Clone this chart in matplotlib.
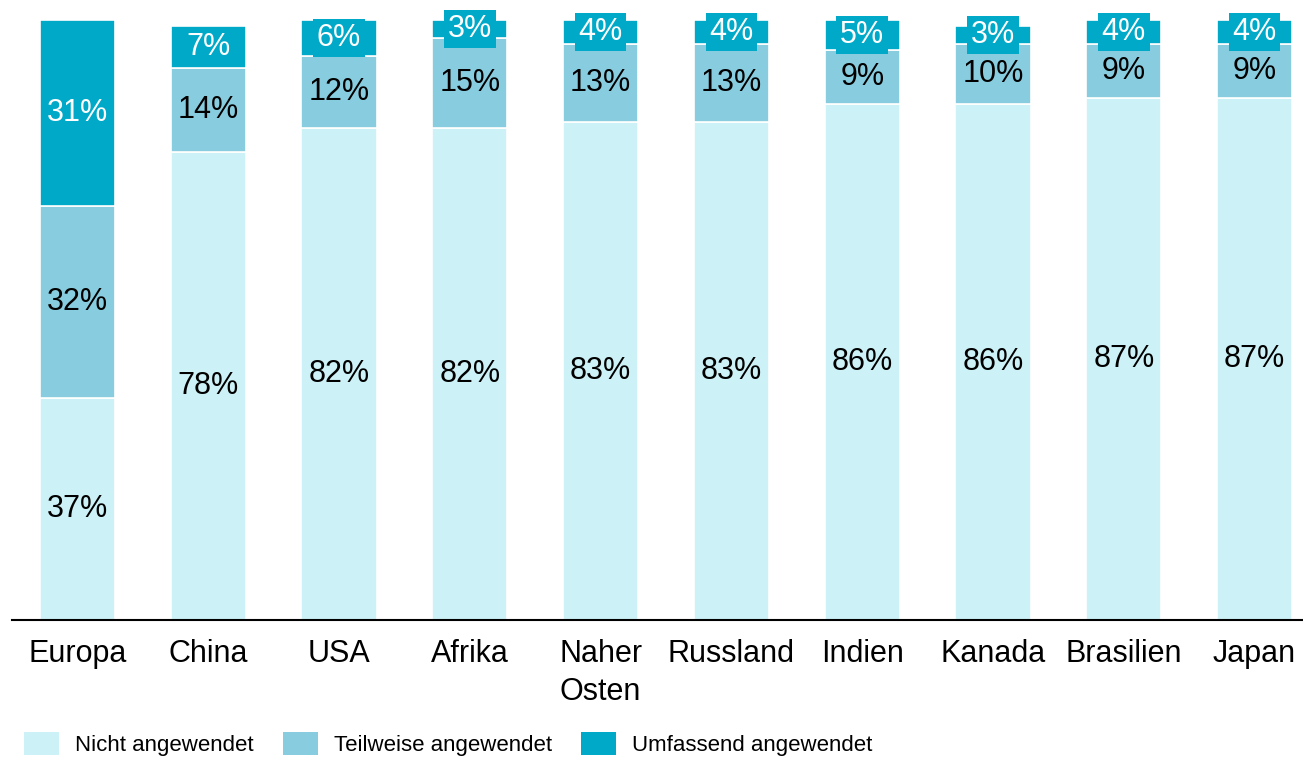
from matplotlib import pyplot as plt
from matplotlib import font_manager
from matplotlib.patches import Patch
import numpy as np

regions = ["Europa", "China", "USA", "Afrika", "Naher\nOsten", "Russland",
           "Indien", "Kanada", "Brasilien", "Japan"]
nicht = [37, 78, 82, 82, 83, 83, 86, 86, 87, 87]
teilweise = [32, 14, 12, 15, 13, 13, 9, 10, 9, 9]
umfassend = [31, 7, 6, 3, 4, 4, 5, 3, 4, 4]
series_names = ["Nicht angewendet", "Teilweise angewendet", "Umfassend angewendet"]
colors = ["#ccf2f7", "#88cddf", "#00a9c8"]

available = {f.name for f in font_manager.fontManager.ttflist}
family = "Liberation Sans Narrow" if "Liberation Sans Narrow" in available else "Liberation Sans"
plt.rcParams["font.family"] = [family, "DejaVu Sans"]

fig = plt.figure(figsize=(13.03, 7.64), dpi=100)
ax = fig.add_axes([12 / 1303, 144 / 764, 1 - 12 / 1303, 600 / 764])

x = np.arange(len(regions))
width = 0.575
bottom = np.zeros(len(regions))
for vals, col, name in zip([nicht, teilweise, umfassend], colors, series_names):
    vals = np.array(vals, dtype=float)
    ax.bar(x, vals, width, bottom=bottom, color=col, edgecolor="white",
           linewidth=1.2, label=name)
    for xi, b, v in zip(x, bottom, vals):
        txt_col = "white" if col == colors[2] else "black"
        kw = {}
        if col == colors[2] and v < 10:
            kw["bbox"] = dict(boxstyle="square,pad=0.12", fc=col, ec="none")
        ax.text(xi, b + v / 2, f"{int(v)}%", ha="center", va="center",
                fontsize=22, color=txt_col, clip_on=False, **kw)
    bottom += vals

ax.set_xlim(-0.5, 9.37)
ax.set_ylim(0, 100)
ax.set_xticks(x)
ax.set_xticklabels(regions, fontsize=22, va="top", linespacing=1.35)
ax.tick_params(axis="x", length=0, pad=14)
ax.set_yticks([])
for s in ["top", "right", "left"]:
    ax.spines[s].set_visible(False)
ax.spines["bottom"].set_linewidth(1.5)

handles = [Patch(facecolor=c, edgecolor="none") for c in colors]
fig.legend(handles, series_names, loc="lower left", bbox_to_anchor=(0.003, -0.016),
           ncol=3, frameon=False, fontsize=16, handlelength=1.6, handleheight=1.2,
           handletextpad=0.7, columnspacing=1.3)

plt.savefig("out.png", dpi=100)
